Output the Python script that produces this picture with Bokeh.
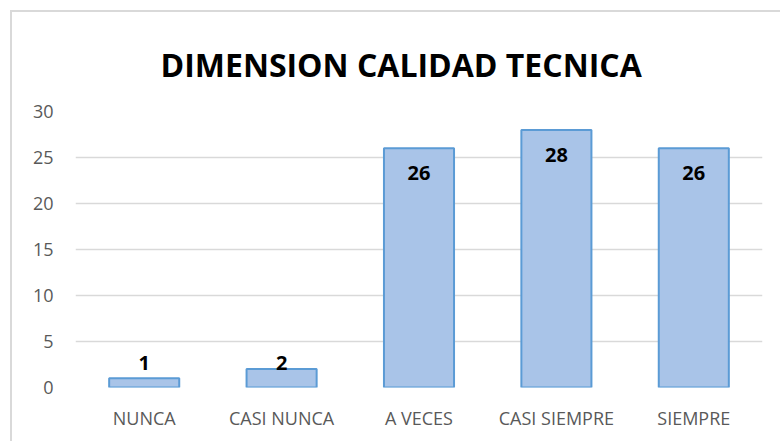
from bokeh.plotting import figure
from bokeh.models import ColumnDataSource, FactorRange, Range1d, FixedTicker, Title
from bokeh.core.properties import value
from bokeh.embed import file_html
from bokeh.resources import INLINE

# ---- data ----
categories = ["NUNCA", "CASI NUNCA", "A VECES", "CASI SIEMPRE", "SIEMPRE"]
counts = [1, 2, 26, 28, 26]
y_ticks = [0, 5, 10, 15, 20, 25, 30]
title_text = "DIMENSION CALIDAD TECNICA"

label_y = [max(v - 2.7, 2.65) for v in counts]
source = ColumnDataSource(dict(cat=categories, val=counts,
                               lab=[str(v) for v in counts], ly=label_y))

p = figure(x_range=FactorRange(*categories, range_padding=0),
           y_range=Range1d(0, 30),
           width=770, height=431,
           output_backend="svg", toolbar_location=None,
           min_border_left=63, min_border_right=20,
           min_border_top=99, min_border_bottom=56)
p.styles = {"margin-left": "10px", "margin-top": "10px",
            "border-left": "2px solid #d9d9d9", "border-top": "2px solid #d9d9d9"}
p.outline_line_color = None
p.background_fill_color = "white"
p.border_fill_color = "white"

t = Title(text=title_text, align="left", text_font="Open Sans",
          text_font_size="32px", text_font_style="bold", text_color="black",
          standoff=51, offset=85)
p.add_layout(t, "above")

p.vbar(x="cat", top="val", width=0.51, source=source,
       fill_color="#a9c4e8", line_color="#5b9bd5", line_width=2)

p.text(x="cat", y="ly", text="lab", source=source,
       text_font=value("Open Sans"), text_font_size="20px",
       text_font_style="bold", text_color="black",
       text_align="center", text_baseline="middle")

p.xgrid.grid_line_color = None
p.ygrid.grid_line_color = "#d9d9d9"
p.ygrid.grid_line_width = 1.5
p.yaxis.ticker = FixedTicker(ticks=y_ticks)

for ax in (p.xaxis[0], p.yaxis[0]):
    ax.axis_line_color = None
    ax.major_tick_line_color = None
    ax.minor_tick_line_color = None
    ax.major_tick_out = 0
    ax.major_tick_in = 0
    ax.major_label_text_font = "Open Sans"
    ax.major_label_text_font_size = "18px"
    ax.major_label_text_color = "#595959"

p.yaxis.major_label_standoff = 22
p.xaxis.major_label_standoff = 18
p.xaxis.group_text_font_size = "0px"

open("out.html", "w").write(file_html(p, INLINE))
